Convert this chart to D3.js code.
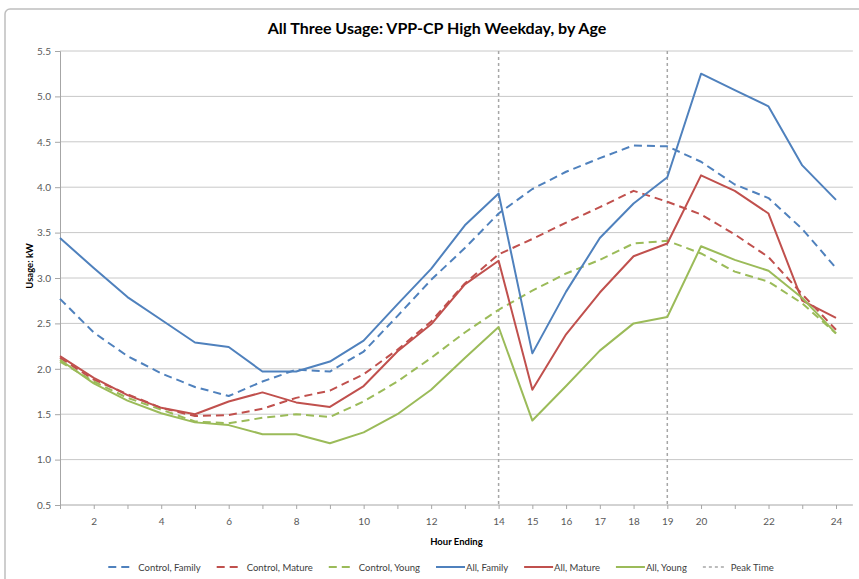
<!DOCTYPE html>
<html>
<head>
<meta charset="utf-8">
<script src="https://cdn.jsdelivr.net/npm/d3@7"></script>
<style>
  body { margin: 0; background: #fff; }
  svg text { font-family: Lato, "Open Sans", sans-serif; }
</style>
</head>
<body>
<svg id="chart" width="859" height="579"></svg>
<script>
// 数据：小时和各系列用电量 (kW)
const hours = [1, 2, 3, 4, 5, 6, 7, 8, 9, 10, 11, 12, 13, 14, 15, 16, 17, 18, 19, 20, 21, 22, 23, 24];
const hourLabels = [2, 4, 6, 8, 10, 12, 14, 15, 16, 17, 18, 19, 20, 22, 24];
const yTicks = [0.5, 1.0, 1.5, 2.0, 2.5, 3.0, 3.5, 4.0, 4.5, 5.0, 5.5];
const peakHours = [14, 19];

const control_family = [2.77, 2.40, 2.14, 1.95, 1.80, 1.70, 1.86, 1.99, 1.97, 2.19, 2.58, 2.98, 3.33, 3.71, 3.98, 4.17, 4.32, 4.46, 4.45, 4.28, 4.03, 3.88, 3.54, 3.11];
const control_mature = [2.12, 1.88, 1.72, 1.57, 1.48, 1.49, 1.56, 1.68, 1.76, 1.94, 2.21, 2.52, 2.94, 3.26, 3.43, 3.61, 3.78, 3.96, 3.84, 3.70, 3.48, 3.23, 2.82, 2.43];
const control_young = [2.08, 1.86, 1.68, 1.55, 1.42, 1.40, 1.46, 1.50, 1.47, 1.64, 1.86, 2.12, 2.40, 2.65, 2.86, 3.05, 3.20, 3.38, 3.41, 3.27, 3.07, 2.96, 2.72, 2.39];
const all_family = [3.44, 3.11, 2.79, 2.54, 2.29, 2.24, 1.97, 1.97, 2.08, 2.31, 2.71, 3.10, 3.58, 3.93, 2.17, 2.85, 3.44, 3.82, 4.11, 5.25, 5.07, 4.89, 4.24, 3.86];
const all_mature = [2.14, 1.90, 1.71, 1.57, 1.50, 1.64, 1.74, 1.63, 1.58, 1.81, 2.19, 2.49, 2.93, 3.19, 1.77, 2.38, 2.84, 3.24, 3.38, 4.13, 3.96, 3.71, 2.75, 2.56];
const all_young = [2.10, 1.84, 1.65, 1.51, 1.41, 1.38, 1.28, 1.28, 1.18, 1.30, 1.50, 1.77, 2.12, 2.46, 1.43, 1.81, 2.20, 2.50, 2.57, 3.35, 3.20, 3.08, 2.78, 2.39];

const seriesNames = ["Control, Family", "Control, Mature", "Control, Young", "All, Family", "All, Mature", "All, Young"];
const seriesValues = [control_family, control_mature, control_young, all_family, all_mature, all_young];

const BLUE = "#4F81BD", RED = "#C0504D", GREEN = "#9BBB59", PEAK = "#A6A6A6";
const seriesStyle = [
  { color: BLUE, dash: "8,5" },
  { color: RED, dash: "8,5" },
  { color: GREEN, dash: "8,5" },
  { color: BLUE, dash: null },
  { color: RED, dash: null },
  { color: GREEN, dash: null }
];

const svg = d3.select("#chart");

const xScale = d3.scaleLinear().domain([1, 24]).range([60, 836]);
const yScale = d3.scaleLinear().domain([0.5, 5.5]).range([505, 51]);
const plotRight = xScale(24.5);

//外框和标题
function draw_Frame() {
  svg.append("rect")
    .attr("x", 5).attr("y", 9)
    .attr("width", 900).attr("height", 620)
    .attr("rx", 5)
    .style("fill", "none")
    .style("stroke", "#BFBFBF")
    .style("stroke-width", 1.5);

  svg.append("text")
    .attr("x", 437).attr("y", 34)
    .text("All Three Usage: VPP-CP High Weekday, by Age")
    .style("text-anchor", "middle")
    .style("font-size", "16px")
    .style("font-weight", "bold")
    .style("fill", "#000");
}

//网格线
function draw_Grid() {
  svg.selectAll(".grid")
    .data(yTicks.filter(d => d > 0.5))
    .enter()
    .append("line")
    .attr("class", "grid")
    .attr("x1", xScale(1)).attr("x2", plotRight)
    .attr("y1", d => yScale(d)).attr("y2", d => yScale(d))
    .style("stroke", "#C8C8C8")
    .style("stroke-width", 1);
}

//坐标轴
function draw_Axis() {
  const yAxis = d3.axisLeft(yScale)
    .tickValues(yTicks)
    .tickFormat(d3.format(".1f"))
    .tickSize(5)
    .tickPadding(4);
  const gy = svg.append("g")
    .attr("transform", `translate(${xScale(1)},0)`)
    .call(yAxis);
  gy.select(".domain").style("stroke", "#A6A6A6");
  gy.selectAll(".tick line").style("stroke", "#A6A6A6");
  gy.selectAll("text").style("font-size", "10px").style("fill", "#595959");

  const xAxis = d3.axisBottom(xScale)
    .tickValues(hours)
    .tickFormat(d => hourLabels.includes(d) ? d : "")
    .tickSize(4)
    .tickSizeOuter(0)
    .tickPadding(9);
  const gx = svg.append("g")
    .attr("transform", `translate(0,${yScale(0.5)})`)
    .call(xAxis);
  gx.select(".domain")
    .attr("d", `M${xScale(1)},0H${plotRight}`)
    .style("stroke", "#A6A6A6");
  gx.selectAll(".tick line").style("stroke", "#A6A6A6");
  gx.selectAll("text").style("font-size", "10px").style("fill", "#595959");

  svg.append("text")
    .attr("transform", "translate(33,266) rotate(-90)")
    .text("Usage: kW")
    .style("text-anchor", "middle")
    .style("font-size", "9.5px")
    .style("font-weight", "bold")
    .style("fill", "#000");

  svg.append("text")
    .attr("x", (xScale(1) + plotRight) / 2).attr("y", 545)
    .text("Hour Ending")
    .style("text-anchor", "middle")
    .style("font-size", "9.5px")
    .style("font-weight", "bold")
    .style("fill", "#000");
}

//峰值时段竖线
function draw_Peak() {
  svg.selectAll(".peak")
    .data(peakHours)
    .enter()
    .append("line")
    .attr("class", "peak")
    .attr("x1", d => xScale(d)).attr("x2", d => xScale(d))
    .attr("y1", yScale(5.5)).attr("y2", yScale(0.5))
    .style("stroke", PEAK)
    .style("stroke-width", 1.5)
    .style("stroke-dasharray", "3,3");
}

//折线
function draw_Lines() {
  const line = d3.line()
    .x((d, i) => xScale(hours[i]))
    .y(d => yScale(d));

  svg.selectAll(".series")
    .data(seriesValues)
    .enter()
    .append("path")
    .attr("class", "series")
    .attr("d", d => line(d))
    .style("fill", "none")
    .style("stroke", (d, i) => seriesStyle[i].color)
    .style("stroke-width", 2)
    .style("stroke-linejoin", "round")
    .style("stroke-dasharray", (d, i) => seriesStyle[i].dash);
}

//图例
function draw_Legend() {
  const items = seriesNames.map((n, i) => ({ name: n, color: seriesStyle[i].color, dash: seriesStyle[i].dash }))
    .concat([{ name: "Peak Time", color: PEAK, dash: "3,3", peak: true }]);
  const ly = 567;
  const g = svg.append("g");
  let x = 0;
  items.forEach(it => {
    const sampleLen = it.peak ? 23 : (it.dash ? 21 : 29);
    g.append("line")
      .attr("x1", x).attr("x2", x + sampleLen)
      .attr("y1", ly).attr("y2", ly)
      .style("stroke", it.color)
      .style("stroke-width", it.peak ? 1.5 : 2)
      .style("stroke-dasharray", it.dash);
    const t = g.append("text")
      .attr("x", x + (it.peak ? 28 : 30)).attr("y", ly + 3.5)
      .text(it.name)
      .style("font-size", "9.5px")
      .style("fill", "#404040");
    x = x + (it.peak ? 28 : 30) + t.node().getComputedTextLength() + 16;
  });
  const total = x - 16;
  g.attr("transform", `translate(${441 - total / 2},0)`);
}

draw_Frame();
draw_Grid();
draw_Axis();
draw_Peak();
draw_Lines();
draw_Legend();
</script>
</body>
</html>
